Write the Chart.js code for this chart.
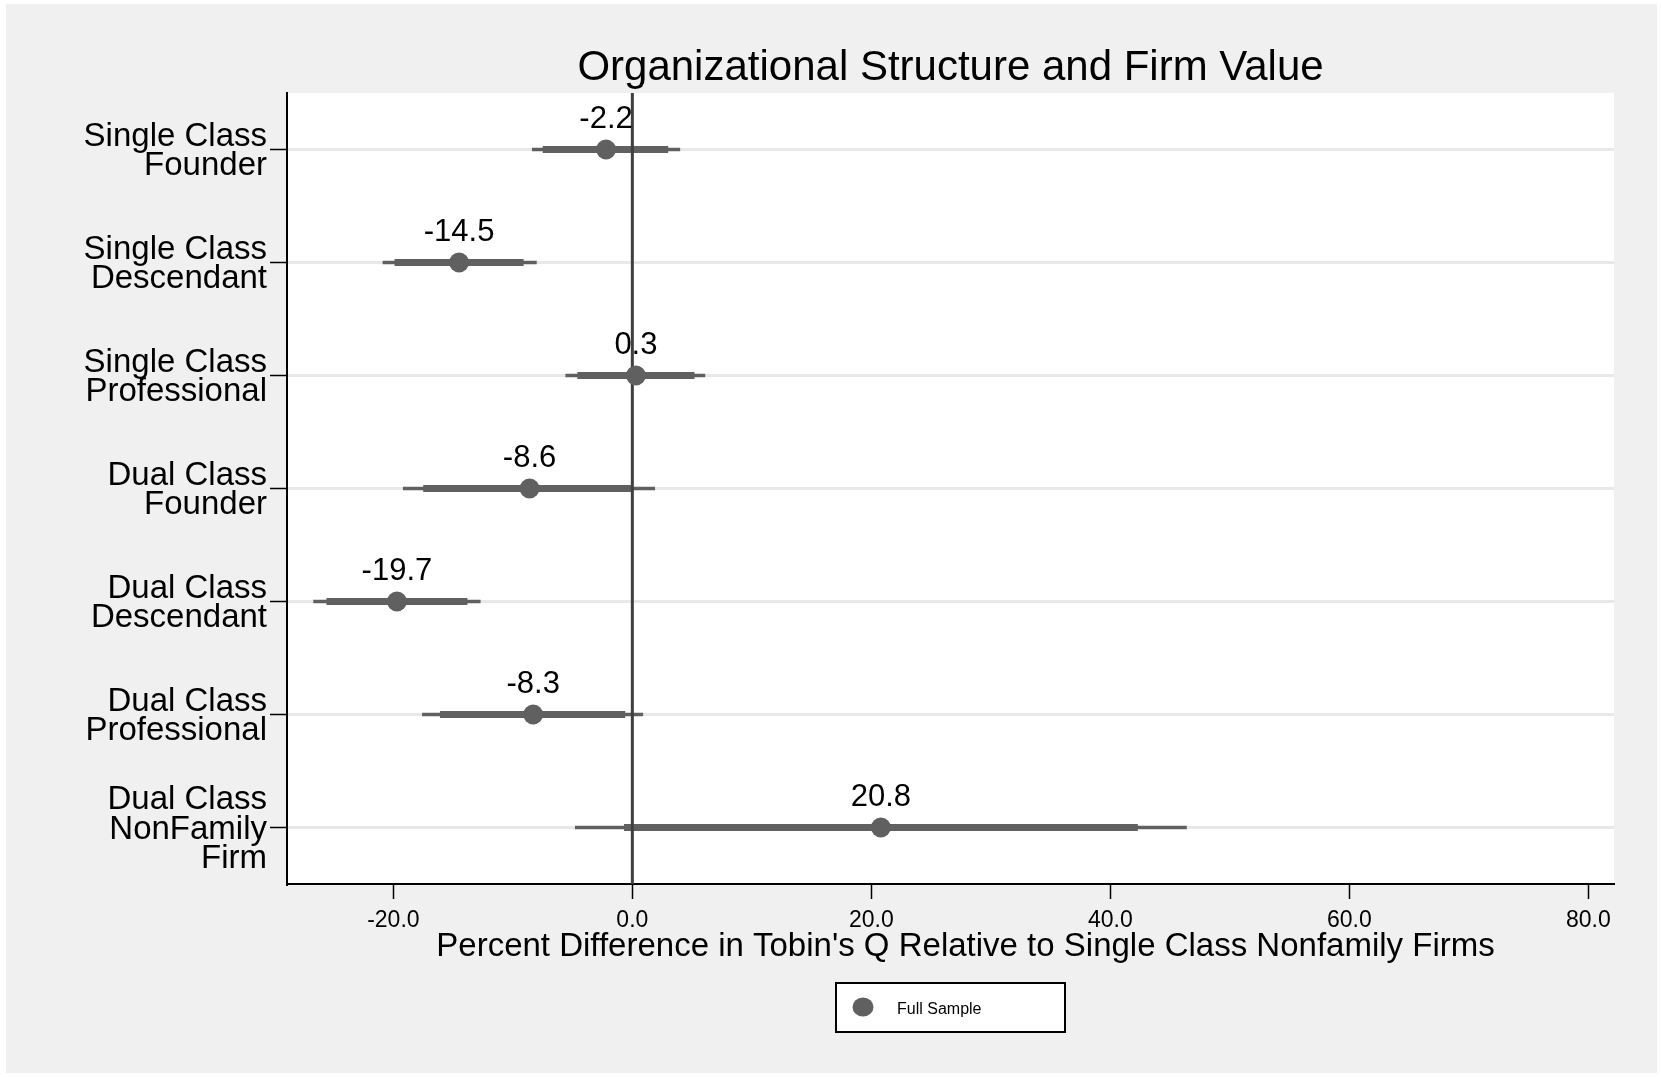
<!DOCTYPE html>
<html>
<head>
<meta charset="utf-8">
<title>Organizational Structure and Firm Value</title>
<script src="https://cdn.jsdelivr.net/npm/chart.js@4.4.1/dist/chart.umd.min.js"></script>
<style>
  html, body { margin: 0; padding: 0; background: #ffffff; }
  #wrap { position: relative; width: 1661px; height: 1077px; }
  canvas { display: block; }
</style>
</head>
<body>
<div id="wrap"><canvas id="chart" width="1661" height="1077"></canvas></div>
<script>
// Firm types (multi-line axis labels), top to bottom
const categories = [
  ["Single Class", "Founder"],
  ["Single Class", "Descendant"],
  ["Single Class", "Professional"],
  ["Dual Class", "Founder"],
  ["Dual Class", "Descendant"],
  ["Dual Class", "Professional"],
  ["Dual Class", "NonFamily", "Firm"]
];

// Point estimates (% difference in Tobin's Q)
const estimates = [-2.2, -14.5, 0.3, -8.6, -19.7, -8.3, 20.8];

// Wide confidence band (thin whiskers)
const outerLow  = [-8.4, -20.9, -5.6, -19.2, -26.7, -17.6, -4.8];
const outerHigh = [ 4.0,  -8.0,  6.1,   1.9, -12.7,   0.9, 46.4];

// Narrow confidence band (thick bars)
const innerLow  = [-7.5, -19.9, -4.6, -17.5, -25.6, -16.1, -0.7];
const innerHigh = [ 3.0,  -9.1,  5.2,   0.0, -13.8,  -0.6, 42.3];

// Horizontal axis ticks
const xTicks = [-20, 0, 20, 40, 60, 80];

const seriesName = "Full Sample";
const titleText = "Organizational Structure and Firm Value";
const xTitleText = "Percent Difference in Tobin's Q Relative to Single Class Nonfamily Firms";

const MARK = "#606060";
const FONT = "'Liberation Sans', Arial, Helvetica, sans-serif";

Chart.defaults.font.family = FONT;
Chart.defaults.color = "#000";

// Interval segments, one dataset per category and band
function bandDatasets(lows, highs, width, order) {
  return lows.map((lo, i) => ({
    type: "scatter",
    data: [{ x: lo, y: i }, { x: highs[i], y: i }],
    showLine: true,
    borderColor: MARK,
    borderWidth: width,
    borderCapStyle: "butt",
    pointRadius: 0,
    pointHoverRadius: 0,
    order: order
  }));
}

const datasets = [
  {
    label: seriesName,
    type: "scatter",
    data: estimates.map((v, i) => ({ x: v, y: i })),
    backgroundColor: MARK,
    borderWidth: 0,
    pointRadius: 10,
    pointHoverRadius: 10,
    order: 0
  },
  {
    label: "zero",
    type: "scatter",
    data: [{ x: 0, y: -0.5 }, { x: 0, y: categories.length - 0.5 }],
    showLine: true,
    borderColor: "#3f3f3f",
    borderWidth: 3,
    pointRadius: 0,
    pointHoverRadius: 0,
    order: 1
  },
  ...bandDatasets(innerLow, innerHigh, 7, 2),
  ...bandDatasets(outerLow, outerHigh, 3.5, 3)
];

// Page, graph region and plot region backgrounds
const backdrop = {
  id: "backdrop",
  beforeDraw(chart) {
    const { ctx, chartArea: a } = chart;
    ctx.save();
    ctx.fillStyle = "#ffffff";
    ctx.fillRect(0, 0, chart.width, chart.height);
    ctx.fillStyle = "#f0f0f0";
    ctx.fillRect(6, 4, chart.width - 10, chart.height - 8);
    ctx.fillStyle = "#ffffff";
    ctx.fillRect(a.left, a.top, a.right - a.left, a.bottom - a.top);
    ctx.restore();
  }
};

// Axis title sits slightly right of the plot centre
const xTitleShift = {
  id: "xTitleShift",
  afterLayout(chart) {
    const sc = chart.scales.x;
    if (sc._shiftPatched) return;
    const orig = sc.drawTitle;
    sc.drawTitle = function () {
      this.ctx.save();
      this.ctx.translate(15, 0);
      orig.apply(this, arguments);
      this.ctx.restore();
    };
    sc._shiftPatched = true;
  }
};

// Value labels above each estimate
const valueLabels = {
  id: "valueLabels",
  afterDatasetsDraw(chart) {
    const { ctx } = chart;
    const pts = chart.getDatasetMeta(0).data;
    ctx.save();
    ctx.font = "31px " + FONT;
    ctx.fillStyle = "#000";
    ctx.textAlign = "center";
    ctx.textBaseline = "alphabetic";
    pts.forEach((p, i) => {
      ctx.fillText(estimates[i].toFixed(1), p.x, p.y - 22);
    });
    ctx.restore();
  }
};

// Boxed legend below the axis title
const boxedLegend = {
  id: "boxedLegend",
  afterDraw(chart) {
    const { ctx, chartArea: a } = chart;
    const w = 229, h = 49;
    const left = (a.left + a.right) / 2 - w / 2;
    const top = 983;
    ctx.save();
    ctx.fillStyle = "#ffffff";
    ctx.fillRect(left, top, w, h);
    ctx.strokeStyle = "#000";
    ctx.lineWidth = 2;
    ctx.strokeRect(left, top, w, h);
    ctx.fillStyle = MARK;
    ctx.beginPath();
    ctx.ellipse(left + 27, top + 24, 10.5, 9.5, 0, 0, Math.PI * 2);
    ctx.fill();
    ctx.fillStyle = "#000";
    ctx.font = "16px " + FONT;
    ctx.textAlign = "left";
    ctx.textBaseline = "alphabetic";
    ctx.fillText(chart.data.datasets[0].label, left + 61, top + 31);
    ctx.restore();
  }
};

new Chart(document.getElementById("chart"), {
  type: "scatter",
  data: { datasets },
  options: {
    responsive: false,
    animation: false,
    devicePixelRatio: 1,
    layout: { padding: { left: 0, right: 47, top: 0, bottom: 114 } },
    plugins: {
      legend: { display: false },
      tooltip: { enabled: false },
      title: {
        display: true,
        text: titleText,
        fullSize: false,
        color: "#000",
        font: { size: 42, weight: "normal", lineHeight: 1.1 },
        padding: { top: 45.3, bottom: 1.5 }
      }
    },
    scales: {
      x: {
        type: "linear",
        min: -28.9,
        max: 82.15,
        afterBuildTicks: (s) => { s.ticks = xTicks.map(v => ({ value: v })); },
        afterFit: (s) => { s.height = 79; },
        ticks: {
          callback: (v) => Number(v).toFixed(1),
          font: { size: 23, lineHeight: 1 },
          color: "#000",
          padding: 10.5,
          maxRotation: 0,
          autoSkip: false
        },
        grid: {
          drawOnChartArea: false,
          tickLength: 15,
          tickColor: "#000",
          tickWidth: 1.5
        },
        border: { color: "#000", width: 2 },
        title: {
          display: true,
          text: xTitleText,
          color: "#000",
          font: { size: 33, lineHeight: 1 },
          padding: { top: 0, bottom: 0 }
        }
      },
      y: {
        type: "linear",
        reverse: true,
        min: -0.5,
        max: categories.length - 0.5,
        afterBuildTicks: (s) => { s.ticks = categories.map((_, i) => ({ value: i })); },
        afterFit: (s) => { s.width = 287; },
        ticks: {
          callback: (v) => categories[v],
          font: { size: 33, lineHeight: 0.9 },
          color: "#000",
          padding: 3,
          labelOffset: 2,
          autoSkip: false
        },
        grid: {
          color: "#e8e8e8",
          lineWidth: 3,
          tickLength: 17,
          tickColor: "#000",
          tickWidth: 1.5
        },
        border: { color: "#000", width: 2 }
      }
    }
  },
  plugins: [backdrop, xTitleShift, valueLabels, boxedLegend]
});
</script>
</body>
</html>
